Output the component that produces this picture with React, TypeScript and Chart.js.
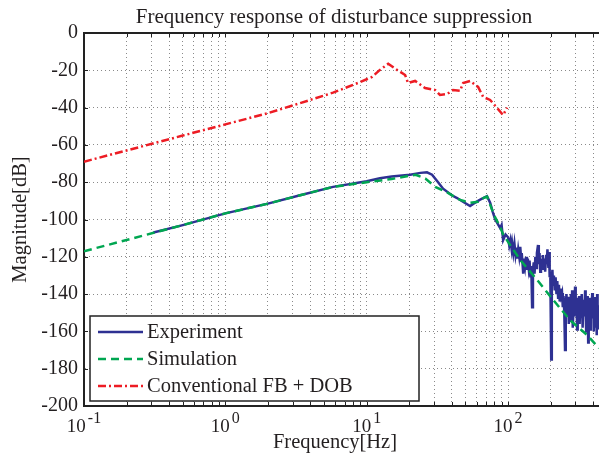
import React, { useEffect, useRef } from "react";
import { Chart, registerables } from "chart.js";
Chart.register(...registerables);

const titleText = "Frequency response of disturbance suppression";
const xAxisTitle = "Frequency[Hz]";
const yAxisTitle = "Magnitude[dB]";
const seriesLabels = ["Experiment", "Simulation", "Conventional FB + DOB"];
const seriesColors = ["#2e3192", "#00a651", "#ed1c24"];

const xMin = 0.1;
const xMax = 440;
const xDecades = [-1, 0, 1, 2];
const yTicks = [0, -20, -40, -60, -80, -100, -120, -140, -160, -180, -200];

const expFreq = [
  0.31, 0.5, 1, 2, 3.38, 5.78, 10, 12.4, 15, 20.3, 24, 26.7, 29, 32, 34.7, 40, 43.6, 48, 53.9, 57, 63, 71,
  74.7, 78, 81.1, 84, 87.9, 90, 92.3, 96, 100, 102, 104, 106, 107, 109, 111, 113, 115, 116, 118, 120, 122,
  124, 125, 127, 128, 130, 132, 134, 136, 138, 140, 142, 144, 146, 148, 150, 152, 154, 156, 158, 160, 163,
  165, 167, 169, 171, 174, 176, 178, 181, 183, 186, 188, 190, 193, 195, 197, 199, 202, 204, 206, 208, 211,
  214, 217, 220, 223, 226, 229, 232, 235, 238, 241, 244, 247, 250, 253, 256, 259, 262, 266, 269, 272, 275,
  278, 281, 284, 287, 291, 294, 298, 301, 305, 308, 311, 315, 318, 321, 324, 328, 332, 337, 341, 346, 351,
  354, 357, 360, 363, 366, 369, 372, 375, 378, 381, 385, 389, 394, 398, 401, 404, 408, 411, 414, 417, 421,
  424, 427, 430, 434, 437, 440,
];
const expMag = [
  -107, -103, -96.7, -91.5, -87, -82.5, -79.5, -77.9, -77, -76, -75, -74.7, -76, -80, -83.5, -87, -88.5,
  -90.5, -92.8, -91.5, -89.5, -87.5, -91, -96, -100, -102, -104.6, -103, -111, -108, -109.5, -114, -111,
  -116, -113, -118, -113, -119, -115, -121, -116, -120, -114.7, -122, -118, -125, -129, -121, -125, -120,
  -127, -121, -126, -122, -131, -125, -147, -127, -123, -129, -120, -126, -118, -113.7, -124, -118, -128,
  -121, -125.5, -119, -127, -121, -128, -119, -124, -116, -126, -117.4, -131, -128, -175, -132, -127,
  -135, -130, -138, -131, -140, -133, -142, -135, -144, -137, -141, -139.4, -147, -141, -150, -170, -146,
  -140, -152, -141.5, -156, -143, -150, -140, -155, -138, -158, -146, -152, -136, -150, -142, -159, -144,
  -152, -141, -156, -145, -150, -140, -158, -143, -152, -138, -149, -160, -144, -153, -141, -166, -147,
  -155, -142, -159, -145, -153, -139.4, -151, -143, -160, -146, -154, -141.5, -158, -147, -162, -140, -155,
  -146, -159, -148,
];

const simFreq = [
  0.1, 0.2, 0.5, 1, 2, 3.38, 5.78, 10, 15, 20.3, 22.2, 26, 30.5, 37.1, 45.8, 53.9, 61.4, 66.7, 71, 74.7,
  80, 87.9, 92.3, 100, 122, 161, 208, 275, 363, 440,
];
const simMag = [
  -117, -111, -103, -96.7, -91.5, -87, -82.5, -80, -78.3, -76.5, -76, -78, -82.5, -85.5, -89.5, -91,
  -90.5, -88.5, -87.7, -92, -98, -104, -108, -112, -121.7, -132.5, -143, -154, -162, -169,
];

const convFreq = [
  0.1, 0.2, 0.5, 1, 2, 3.38, 5.78, 8.98, 10.9, 12.4, 14.2, 16.4, 18.7, 19.6, 22, 25.9, 30.5, 33, 37.1,
  40.8, 45.8, 48.1, 53.9, 61.4, 66.7, 74.7, 83.7, 92.3, 98.6,
];
const convMag = [
  -69, -63, -55, -49, -43, -37.6, -32, -26.3, -23.6, -19.8, -16.5, -19.8, -22.5, -26.8, -25.7, -29.5,
  -30.6, -33.2, -32.7, -30.6, -31, -26.8, -25.7, -28.9, -34.3, -35.9, -40.2, -44, -40,
];

const FONT = "'Liberation Serif', 'Times New Roman', serif";
const TEXT = "#231f20";

const toPoints = (xs: number[], ys: number[]) => xs.map((x, i) => ({ x, y: ys[i] }));

const decorPlugin = {
  id: "decor",
  afterDraw(chart: any) {
    const { ctx, chartArea } = chart;
    const { left, right, top, bottom } = chartArea;
    const xs = chart.scales.x;
    const ys = chart.scales.y;
    ctx.save();
    // top border
    ctx.strokeStyle = "#222";
    ctx.lineWidth = 2;
    ctx.beginPath();
    ctx.moveTo(left - 1, top);
    ctx.lineTo(right, top);
    ctx.stroke();
    // inward ticks
    ctx.lineWidth = 1;
    ctx.beginPath();
    xs.ticks.forEach((t: any) => {
      const px = Math.round(xs.getPixelForValue(t.value)) + 0.5;
      ctx.moveTo(px, bottom);
      ctx.lineTo(px, bottom - 4);
      ctx.moveTo(px, top);
      ctx.lineTo(px, top + 4);
    });
    ys.ticks.forEach((t: any) => {
      const py = Math.round(ys.getPixelForValue(t.value)) + 0.5;
      ctx.moveTo(left, py);
      ctx.lineTo(left + 4, py);
    });
    ctx.stroke();

    ctx.fillStyle = TEXT;
    // x tick labels 10^n
    xDecades.forEach((d) => {
      const px = xs.getPixelForValue(Math.pow(10, d));
      const base = "10";
      const exp = String(d);
      ctx.font = `19px ${FONT}`;
      const w1 = ctx.measureText(base).width;
      ctx.font = `16px ${FONT}`;
      const w2 = ctx.measureText(exp).width;
      const gap = 2;
      const start = px - (w1 + gap + w2) / 2;
      ctx.textAlign = "left";
      ctx.textBaseline = "alphabetic";
      ctx.font = `19px ${FONT}`;
      ctx.fillText(base, start, 432);
      ctx.font = `16px ${FONT}`;
      ctx.fillText(exp, start + w1 + gap, 423);
    });

    // axis titles
    ctx.font = `20.5px ${FONT}`;
    ctx.textAlign = "center";
    ctx.textBaseline = "alphabetic";
    ctx.fillText(xAxisTitle, 335, 448);
    ctx.save();
    ctx.translate(21, (top + bottom) / 2);
    ctx.rotate(-Math.PI / 2);
    ctx.textBaseline = "middle";
    ctx.fillText(yAxisTitle, 0, 0);
    ctx.restore();

    // title
    ctx.font = `21px ${FONT}`;
    ctx.textAlign = "center";
    ctx.textBaseline = "alphabetic";
    ctx.fillText(titleText, 334, 23);

    // legend
    const bx = left + 6;
    const by = 316;
    const bw = 329;
    const bh = 85;
    ctx.fillStyle = "#ffffff";
    ctx.fillRect(bx, by, bw, bh);
    ctx.strokeStyle = "#222";
    ctx.lineWidth = 1.5;
    ctx.strokeRect(bx, by, bw, bh);
    const rowY = [332, 359, 386];
    chart.data.datasets.forEach((ds: any) => {
      const idx = seriesLabels.indexOf(ds.label);
      const y = rowY[idx];
      ctx.strokeStyle = ds.borderColor;
      ctx.lineWidth = ds.borderWidth;
      ctx.setLineDash(ds.borderDash || []);
      ctx.beginPath();
      ctx.moveTo(bx + 8, y);
      ctx.lineTo(bx + 53, y);
      ctx.stroke();
      ctx.setLineDash([]);
      ctx.fillStyle = TEXT;
      ctx.font = `20.5px ${FONT}`;
      ctx.textAlign = "left";
      ctx.textBaseline = "middle";
      ctx.fillText(ds.label, bx + 57, y + 1);
    });
    ctx.restore();
  },
};

export default function App() {
  const canvasRef = useRef<HTMLCanvasElement | null>(null);
  useEffect(() => {
    document.body.style.margin = "0";
    const canvas = canvasRef.current;
    if (!canvas) return;
    const chart = new Chart(canvas, {
      type: "line",
      data: {
        datasets: [
          {
            label: seriesLabels[0],
            data: toPoints(expFreq, expMag),
            borderColor: seriesColors[0],
            borderWidth: 2.5,
            pointRadius: 0,
            order: 1,
          },
          {
            label: seriesLabels[1],
            data: toPoints(simFreq, simMag),
            borderColor: seriesColors[1],
            borderWidth: 2.5,
            borderDash: [8, 5],
            pointRadius: 0,
            order: 0,
          },
          {
            label: seriesLabels[2],
            data: toPoints(convFreq, convMag),
            borderColor: seriesColors[2],
            borderWidth: 2.5,
            borderDash: [8, 3, 2, 3],
            pointRadius: 0,
            order: 2,
          },
        ],
      },
      options: {
        responsive: false,
        animation: false,
        events: [],
        layout: { padding: { top: 33, right: 0, left: 0, bottom: 0 } },
        plugins: { legend: { display: false }, title: { display: false }, tooltip: { enabled: false } },
        scales: {
          x: {
            type: "logarithmic",
            min: xMin,
            max: xMax,
            afterBuildTicks: (scale: any) => {
              const t: any[] = [];
              xDecades.forEach((d) => {
                for (let m = 1; m <= 9; m++) {
                  const v = Number((m * Math.pow(10, d)).toPrecision(6));
                  if (v >= xMin && v <= xMax) t.push({ value: v, major: m === 1 });
                }
              });
              scale.ticks = t;
            },
            afterFit: (scale: any) => {
              scale.height = 53;
            },
            ticks: { display: false },
            grid: { color: "#8a8a8a", lineWidth: 1, drawTicks: false },
            border: { display: true, color: "#222", width: 2, dash: [1, 3] },
          },
          y: {
            type: "linear",
            min: -200,
            max: 0,
            afterBuildTicks: (scale: any) => {
              scale.ticks = yTicks.map((v) => ({ value: v }));
            },
            afterFit: (scale: any) => {
              scale.width = 84;
            },
            ticks: {
              color: TEXT,
              font: { family: FONT, size: 20 },
              padding: 6,
              callback: (v: any) => String(v),
            },
            grid: { color: "#8a8a8a", lineWidth: 1, drawTicks: false },
            border: { display: true, color: "#222", width: 2, dash: [1, 3] },
          },
        },
      },
      plugins: [decorPlugin],
    });
    return () => chart.destroy();
  }, []);
  return (
    <div style={{ width: 599, height: 459 }}>
      <canvas ref={canvasRef} width={599} height={459} />
    </div>
  );
}
